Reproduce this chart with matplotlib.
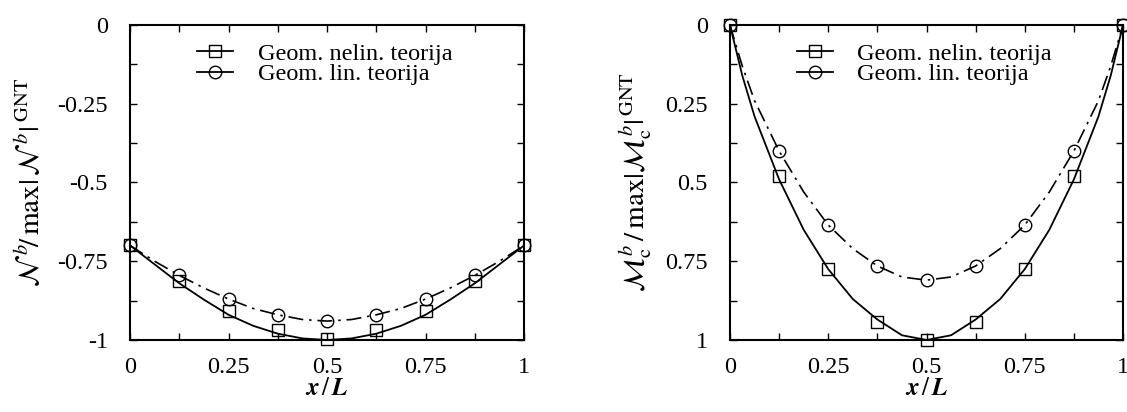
import matplotlib
matplotlib.use("Agg")
import matplotlib.pyplot as plt
import numpy as np

plt.rcParams["font.family"] = ["Liberation Serif", "DejaVu Serif"]
plt.rcParams["mathtext.fontset"] = "stix"
plt.rcParams["axes.unicode_minus"] = False

# marker positions (FE results)
x_pts = [0, 0.125, 0.25, 0.375, 0.5, 0.625, 0.75, 0.875, 1.0]
n_nelin_pts = [-0.70, -0.813, -0.908, -0.968, -0.997, -0.968, -0.908, -0.813, -0.70]
n_lin_pts = [-0.70, -0.794, -0.870, -0.921, -0.940, -0.921, -0.870, -0.794, -0.70]
m_nelin_pts = [0.0, 0.479, 0.775, 0.943, 1.0, 0.943, 0.775, 0.479, 0.0]
m_lin_pts = [0.0, 0.40, 0.635, 0.764, 0.81, 0.764, 0.635, 0.40, 0.0]

# curves
x_line = [0, 0.03125, 0.0625, 0.125, 0.1875, 0.25, 0.3125, 0.375, 0.4375, 0.5,
          0.5625, 0.625, 0.6875, 0.75, 0.8125, 0.875, 0.9375, 0.96875, 1.0]
n_nelin_line = [-0.70, -0.73, -0.76, -0.82, -0.872, -0.92, -0.955, -0.98, -0.995, -1.0,
                -0.995, -0.98, -0.955, -0.92, -0.872, -0.82, -0.76, -0.73, -0.70]
n_lin_line = [-0.70, -0.725, -0.75, -0.795, -0.835, -0.87, -0.90, -0.92, -0.935, -0.94,
              -0.935, -0.92, -0.90, -0.87, -0.835, -0.795, -0.75, -0.725, -0.70]
m_nelin_line = [0.0, 0.16, 0.29, 0.49, 0.65, 0.775, 0.87, 0.935, 0.985, 1.0,
                0.985, 0.935, 0.87, 0.775, 0.65, 0.49, 0.29, 0.16, 0.0]
m_lin_line = [0.0, 0.13, 0.24, 0.40, 0.53, 0.635, 0.71, 0.765, 0.80, 0.81,
              0.80, 0.765, 0.71, 0.635, 0.53, 0.40, 0.24, 0.13, 0.0]

x_ticks = [0, 0.125, 0.25, 0.375, 0.5, 0.625, 0.75, 0.875, 1.0]
x_ticklabels = ["0", "", "0.25", "", "0.5", "", "0.75", "", "1"]
n_ticks = [0, -0.125, -0.25, -0.375, -0.5, -0.625, -0.75, -0.875, -1.0]
n_ticklabels = ["0", "", "-0.25", "", "-0.5", "", "-0.75", "", "-1"]
m_ticks = [0, 0.125, 0.25, 0.375, 0.5, 0.625, 0.75, 0.875, 1.0]
m_ticklabels = ["0", "", "0.25", "", "0.5", "", "0.75", "", "1"]

lab_nelin = "Geom. nelin. teorija"
lab_lin = "Geom. lin. teorija"
dashdot = (0, (9, 3.5, 1.5, 3.5))

fig = plt.figure(figsize=(11.27, 4.12), dpi=100)
ax1 = fig.add_axes([0.1154, 0.1748, 0.3496, 0.7645])
ax2 = fig.add_axes([0.6477, 0.1748, 0.3488, 0.7645])


def draw(ax, nelin_line, lin_line, nelin_pts, lin_pts):
    ax.plot(x_line, nelin_line, color="black", lw=1.3, ls="-")
    ax.plot(x_line, lin_line, color="black", lw=1.2, ls=dashdot)
    ax.plot(x_pts, nelin_pts, ls="none", marker="s", ms=9, mfc="none",
            mec="black", mew=1.0, clip_on=False)
    ax.plot(x_pts, lin_pts, ls="none", marker="o", ms=9, mfc="none",
            mec="black", mew=1.0, clip_on=False)
    # legend proxies
    h1, = ax.plot([], [], color="black", lw=1.3, marker="s", ms=9,
                  mfc="none", mec="black")
    h2, = ax.plot([], [], color="black", lw=1.3, marker="o", ms=9,
                  mfc="none", mec="black")
    ax.legend([h1, h2], [lab_nelin, lab_lin], loc="upper left",
              bbox_to_anchor=(0.145, 0.975), frameon=False, fontsize=17.5,
              handlelength=1.5, handletextpad=1.0, labelspacing=-0.05,
              borderaxespad=0)
    ax.set_xlim(0, 1)
    ax.set_xticks(x_ticks)
    ax.set_xticklabels(x_ticklabels)
    ax.tick_params(direction="in", top=True, right=True, length=5,
                   width=1, labelsize=17.5)
    ax.tick_params(axis="x", pad=12)
    ax.tick_params(axis="y", pad=16)
    for s in ax.spines.values():
        s.set_linewidth(1.5)
    ax.set_xlabel(r"$\boldsymbol{x}\,/\,\boldsymbol{L}$", fontsize=18,
                  labelpad=0)


draw(ax1, n_nelin_line, n_lin_line, n_nelin_pts, n_lin_pts)
ax1.set_ylim(-1, 0)
ax1.set_yticks(n_ticks)
ax1.set_yticklabels(n_ticklabels)
ax1.set_ylabel(r"$\mathcal{N}^{\;b}\!/\,\mathrm{max}|\,\mathcal{N}^{\;b}|^{\;\mathrm{GNT}}$",
               fontsize=21, labelpad=8)

draw(ax2, m_nelin_line, m_lin_line, m_nelin_pts, m_lin_pts)
ax2.set_ylim(1, 0)
ax2.set_yticks(m_ticks)
ax2.set_yticklabels(m_ticklabels)
ax2.set_ylabel(r"$\mathcal{M}_{\mathrm{c}}^{\,b}\,/\,\mathrm{max}|\mathcal{M}_{\mathrm{c}}^{\,b}|^{\,\mathrm{GNT}}$",
               fontsize=21, labelpad=8)

fig.savefig("out.png", dpi=100)
